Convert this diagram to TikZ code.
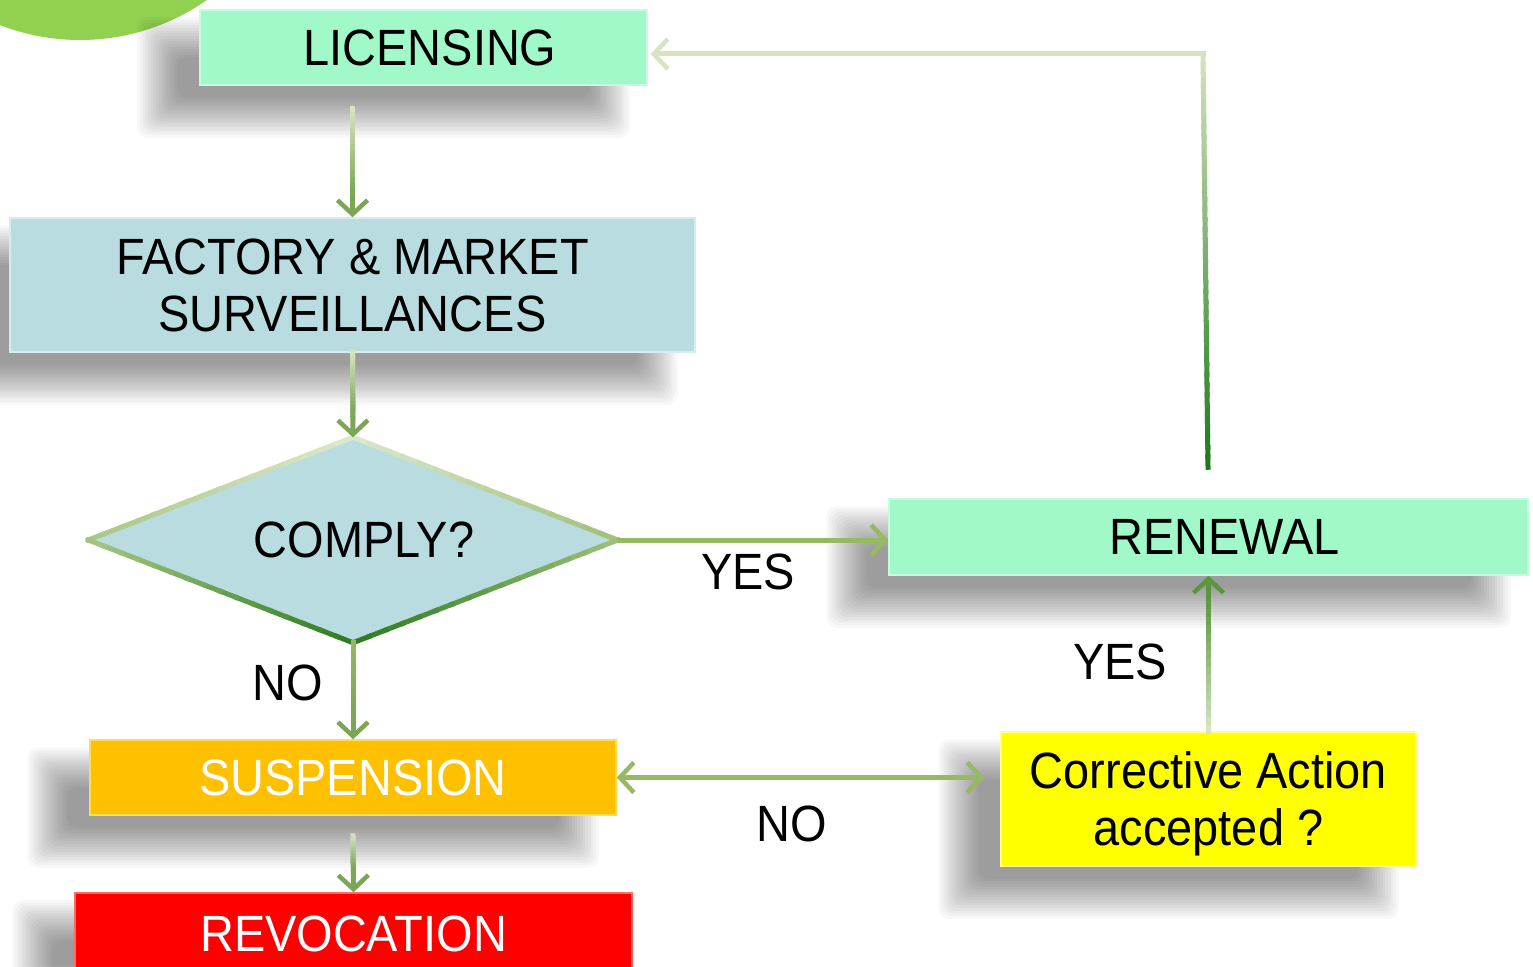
\documentclass[tikz,border=0pt]{standalone}
\usepackage{fontspec}
\setmainfont{Liberation Sans}[FakeStretch=0.92]
\usetikzlibrary{shapes.geometric,arrows.meta,calc}
\pgfdeclarelayer{bg}
\pgfsetlayers{bg,main}
\definecolor{mint}{HTML}{A1F9CA}
\definecolor{mintedge}{HTML}{C6FCE0}
\definecolor{bluefill}{HTML}{B8DCE0}
\definecolor{blueedge}{HTML}{D6ECEF}
\definecolor{orangefill}{HTML}{FFC000}
\definecolor{orangeedge}{HTML}{FFDC50}
\definecolor{redfill}{HTML}{FF0000}
\definecolor{rededge}{HTML}{FF6A6A}
\definecolor{yellowfill}{HTML}{FFFF00}
\definecolor{yellowedge}{HTML}{FFFF90}
\definecolor{circgreen}{HTML}{92D050}
\definecolor{gLight}{HTML}{D9E6C6}
\definecolor{gMid}{HTML}{7AA655}
\definecolor{gOlive}{HTML}{96B963}
\definecolor{gDeep}{HTML}{1B7A1B}
\definecolor{gPale}{HTML}{D6E4C0}
\definecolor{gDark}{HTML}{5A963C}
\definecolor{dTop}{HTML}{DCE8CB}
\definecolor{dLeft}{HTML}{A9C686}
\definecolor{dRight}{HTML}{A0C079}
\definecolor{dBottom}{HTML}{2A7B20}
\newcommand\gradseg[5]{%
  \foreach \k in {1,...,#5}{%
    \pgfmathsetmacro\ta{(\k-1)/#5}%
    \pgfmathsetmacro\tb{\k/#5}%
    \pgfmathtruncatemacro\pc{100*(\k-0.5)/#5}%
    \draw[grline, draw=#4!\pc!#3] ($(#1)!\ta!(#2)$) -- ($(#1)!\tb!(#2)$);
  }}
\newcommand\gradarrow[5]{%
  \coordinate (gax) at ($(#2)!22pt!(#1)$);
  \gradseg{#1}{gax}{#3}{#4}{#5}
  \draw[arr, draw=#4] (gax) -- (#2);
}
\newcommand\boxshadow[1]{%
  \foreach \i in {0,...,15}{%
    \pgfmathsetmacro\dd{22-40*\i/15}%
    \fill[black, opacity=0.027, rounded corners=10pt]
      ($(#1.north west)+(-40-\dd,30-\dd)$) rectangle ($(#1.south east)+(-40+\dd,30+\dd)$);
  }}
\begin{document}
\begin{tikzpicture}[x=1pt,y=-1pt,
  every node/.style={font=\fontsize{51}{57}\selectfont},
  box/.style={rectangle, inner sep=0pt, line width=1.5pt, align=center},
  grline/.style={line width=5pt, line cap=rect},
  arr/.style={line width=5pt, -{Straight Barb[length=14pt,width=30pt,line width=4.5pt]}},
  arrboth/.style={line width=5pt, {Straight Barb[length=14pt,width=30pt,line width=4.5pt]}-{Straight Barb[length=14pt,width=30pt,line width=4.5pt]}},
  lbl/.style={inner sep=0pt}]
\useasboundingbox (0,0) rectangle (1533,966);
\clip (0,0) rectangle (1533,966);

% boxes
\node[box, fill=mint, draw=mintedge, minimum width=447pt, minimum height=75pt] (lic) at (423.5,47.5) {\hspace*{13pt}LICENSING};
\node[box, fill=bluefill, draw=blueedge, minimum width=685pt, minimum height=134pt] (fac) at (352.5,285) {FACTORY \& MARKET\\SURVEILLANCES};
\node[diamond, aspect=2.58, inner sep=0pt, fill=bluefill, minimum width=529pt, minimum height=205pt] (comply) at (353,540) {\hspace*{22pt}COMPLY?};
\node[box, fill=mint, draw=mintedge, minimum width=639pt, minimum height=76pt] (ren) at (1208.5,537) {\hspace*{32pt}RENEWAL};
\node[box, fill=orangefill, draw=orangeedge, minimum width=526pt, minimum height=75pt, text=white] (susp) at (353,777.5) {SUSPENSION};
\node[box, fill=redfill, draw=rededge, minimum width=557pt, minimum height=82pt, text=white] (revo) at (353.5,934) {REVOCATION};
\node[box, fill=yellowfill, draw=yellowedge, minimum width=415pt, minimum height=134pt, text depth=0pt] (corr) at (1208.5,799) {Corrective Action\\accepted ?};

% background: page, circle, shadows
\begin{pgfonlayer}{bg}
\fill[white] (0,0) rectangle (1533,966);
\fill[circgreen] (80,-181) circle[radius=221pt];
\boxshadow{lic}
\boxshadow{fac}
\boxshadow{ren}
\boxshadow{susp}
\boxshadow{revo}
\boxshadow{corr}
\end{pgfonlayer}

% diamond border with gradient
\gradseg{comply.west}{comply.north}{dLeft}{dTop}{16}
\gradseg{comply.north}{comply.east}{dTop}{dRight}{16}
\gradseg{comply.east}{comply.south}{dRight}{dBottom}{16}
\gradseg{comply.south}{comply.west}{dBottom}{dLeft}{16}

% connectors
\coordinate (a1s) at ($(lic.south -| fac.north)+(0,23)$);
\gradarrow{a1s}{fac.north}{gLight}{gMid}{16}
\gradarrow{fac.south}{comply.north}{gLight}{gMid}{16}
\gradarrow{comply.south}{susp.north}{gOlive}{gMid}{12}
\coordinate (a4s) at ($(susp.south)+(0,20)$);
\gradarrow{a4s}{revo.north}{gLight}{gMid}{12}
\coordinate (a5e) at (comply.east -| ren.west);
\draw[arr, draw=gOlive] (comply.east) -- (a5e);
\coordinate (a6e) at (susp.east -| corr.west);
\draw[arrboth, draw=gOlive, shorten >=16pt] (susp.east) -- (a6e);
\gradarrow{corr.north}{ren.south}{gLight}{gDark}{16}
\coordinate (r1) at ($(ren.north)+(-0.5,-31)$);
\coordinate (corner) at (1203,54);
\coordinate (r3) at ($(corner -| lic.east)+(3,0)$);
\gradseg{r1}{corner}{gDeep}{gPale}{40}
\gradarrow{corner}{r3}{gPale}{gPale}{4}

% labels
\node[lbl] (yes1) at (748,572) {YES};
\node[lbl] (no1) at (288,683) {NO};
\node[lbl] (yes2) at (1120,662) {YES};
\node[lbl] (no2) at (792,824) {NO};
\end{tikzpicture}
\end{document}
